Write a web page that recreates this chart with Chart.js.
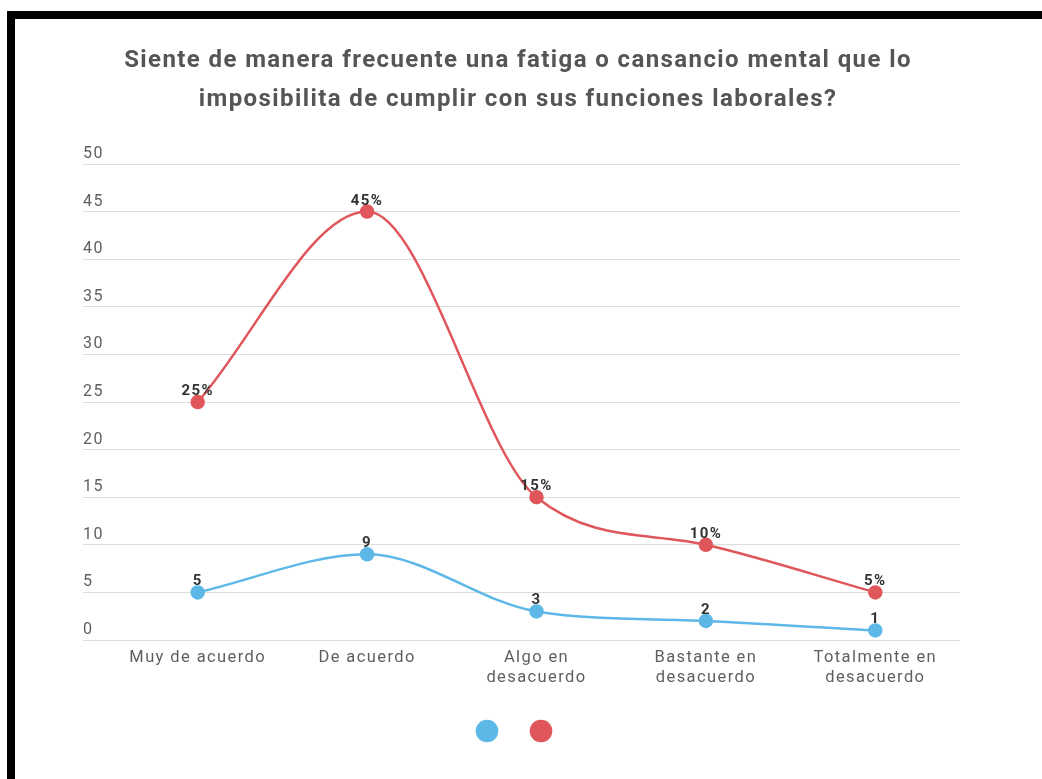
<!DOCTYPE html>
<html>
<head>
<meta charset="utf-8">
<script src="https://cdn.jsdelivr.net/npm/chart.js@4"></script>
<style>
  html, body { margin: 0; padding: 0; background: #fff; width: 1042px; height: 779px; overflow: hidden; }
  #topbar { position: absolute; left: 7px; top: 11px; width: 1035px; height: 8px; background: #000; }
  #leftbar { position: absolute; left: 7px; top: 11px; width: 8px; height: 768px; background: #000; }
  #wrap { position: absolute; left: 0; top: 0; width: 1032px; height: 779px; }
</style>
</head>
<body>
<div id="topbar"></div>
<div id="leftbar"></div>
<div id="wrap"><canvas id="c"></canvas></div>
<script>
const titleLines = ['Siente de manera frecuente una fatiga o cansancio mental que lo', 'imposibilita de cumplir con sus funciones laborales?'];
const categories = ['Muy de acuerdo', 'De acuerdo', ['Algo en', 'desacuerdo'], ['Bastante en', 'desacuerdo'], ['Totalmente en', 'desacuerdo']];
const countValues = [5, 9, 3, 2, 1];
const percentValues = [25, 45, 15, 10, 5];
const yTicks = [0, 5, 10, 15, 20, 25, 30, 35, 40, 45, 50];

const BLUE = '#5db8e8';
const RED = '#e0575b';
const FONT = 'Roboto, "Noto Sans", sans-serif';
const SPACING = '1.4px';

const letterSpacing = {
  id: 'letterSpacing',
  beforeUpdate(chart) { chart.ctx.letterSpacing = SPACING; },
  beforeLayout(chart) { chart.ctx.letterSpacing = SPACING; },
  beforeDraw(chart) { chart.ctx.letterSpacing = SPACING; },
  afterLayout(chart) {
    // y tick labels start where the grid lines start
    const y = chart.scales.y;
    y.left = y.right - 30;
  }
};

const valueLabels = {
  id: 'valueLabels',
  afterDatasetsDraw(chart) {
    const ctx = chart.ctx;
    ctx.save();
    ctx.font = 'bold 15px ' + FONT;
    ctx.fillStyle = '#333';
    ctx.textAlign = 'center';
    ctx.textBaseline = 'alphabetic';
    chart.data.datasets.forEach((ds, di) => {
      const meta = chart.getDatasetMeta(di);
      meta.data.forEach((pt, i) => {
        const txt = ds.data[i] + (ds.suffix || '');
        ctx.fillText(txt, pt.x, pt.y - 7);
      });
    });
    ctx.restore();
  }
};

new Chart(document.getElementById('c'), {
  type: 'line',
  data: {
    labels: categories,
    datasets: [
      { label: 'count', data: countValues, suffix: '', borderColor: BLUE, backgroundColor: BLUE,
        pointBackgroundColor: BLUE, pointBorderColor: BLUE, borderWidth: 2.5, pointRadius: 6, pointHoverRadius: 6,
        cubicInterpolationMode: 'monotone', fill: false },
      { label: 'percent', data: percentValues, suffix: '%', borderColor: RED, backgroundColor: RED,
        pointBackgroundColor: RED, pointBorderColor: RED, borderWidth: 2.5, pointRadius: 6, pointHoverRadius: 6,
        cubicInterpolationMode: 'monotone', fill: false }
    ]
  },
  options: {
    responsive: true,
    maintainAspectRatio: false,
    animation: false,
    layout: { padding: { left: 76, right: 72, top: 0, bottom: 30 } },
    plugins: {
      title: {
        display: true,
        text: titleLines,
        color: '#555',
        font: { family: FONT, size: 24, weight: 'bold', lineHeight: 1.625 },
        padding: { top: 41, bottom: 45 }
      },
      legend: {
        display: true,
        position: 'bottom',
        labels: {
          usePointStyle: true,
          pointStyle: 'circle',
          font: { size: 16 },
          padding: 30,
          generateLabels(chart) {
            return chart.data.datasets.map((ds, i) => ({
              text: '', fillStyle: ds.borderColor, strokeStyle: ds.borderColor, lineWidth: 0,
              pointStyle: 'circle', datasetIndex: i, hidden: false
            }));
          }
        }
      },
      tooltip: { enabled: false }
    },
    scales: {
      x: {
        offset: true,
        afterFit(scale) { scale.height = scale.height - 3; },
        grid: { display: false, drawTicks: false },
        border: { display: false },
        ticks: { color: '#5f5f5f', font: { family: FONT, size: 16.5, lineHeight: 1.212 }, padding: 8, maxRotation: 0, autoSkip: false }
      },
      y: {
        min: 0, max: 50,
        afterBuildTicks(scale) { scale.ticks = yTicks.map(v => ({ value: v })); },
        afterFit(scale) { scale.width = 37; },
        grid: { color: '#dddddd', lineWidth: 1, tickLength: 30, tickColor: '#dddddd', drawTicks: true },
        border: { display: false },
        ticks: { color: '#5f5f5f', crossAlign: 'far', labelOffset: -10, padding: 0,
          font: { family: FONT, size: 16 } }
      }
    }
  },
  plugins: [letterSpacing, valueLabels]
});
</script>
</body>
</html>
